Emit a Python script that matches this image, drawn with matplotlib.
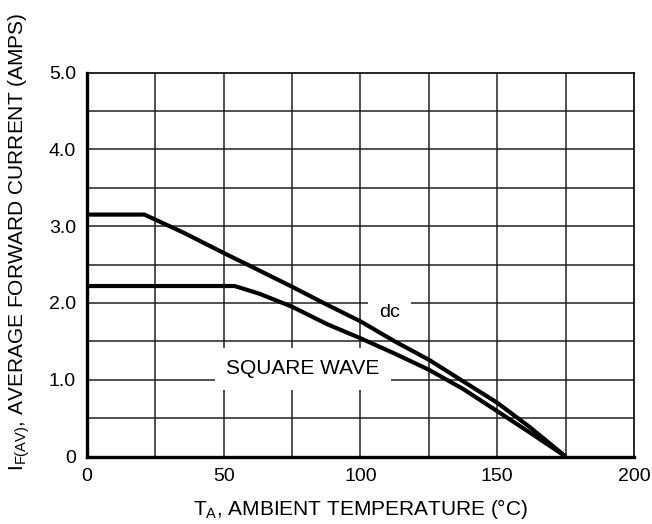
import matplotlib
matplotlib.use('Agg')
from matplotlib import pyplot as plt

plt.rcParams['font.family'] = ['Liberation Sans', 'DejaVu Sans']
plt.rcParams['mathtext.fontset'] = 'custom'
plt.rcParams['mathtext.rm'] = 'Liberation Sans'

# dc curve (ambient temperature in C, current in amps)
dc_temp = [0, 21, 35, 50, 62, 75, 87, 100, 112.5, 125, 137.5, 150, 162, 175]
dc_amps = [3.15, 3.15, 2.92, 2.65, 2.44, 2.21, 1.99, 1.76, 1.50, 1.26, 0.98, 0.70, 0.38, 0.0]

# square wave curve
sq_temp = [0, 54, 63, 75, 88, 100, 112.5, 125, 137.5, 150, 162, 175]
sq_amps = [2.22, 2.22, 2.12, 1.95, 1.72, 1.54, 1.34, 1.13, 0.88, 0.59, 0.31, 0.0]

x_ticks = [0, 50, 100, 150, 200]
y_ticks = [0, 1, 2, 3, 4, 5]
y_labels = ['0', '1.0', '2.0', '3.0', '4.0', '5.0']

fig = plt.figure(figsize=(6.52, 5.24), dpi=100)
ax = fig.add_axes([0.1334, 0.1288, 0.8390, 0.7328])

# grid every 25 C and 0.5 A
for gx in range(25, 200, 25):
    ax.axvline(gx, color='#222222', lw=1.1, zorder=1)
for gy in [0.5, 1, 1.5, 2, 2.5, 3, 3.5, 4, 4.5]:
    ax.axhline(gy, color='#222222', lw=1.1, zorder=1)

ax.plot(dc_temp, dc_amps, color='black', lw=3.0, zorder=4, solid_capstyle='butt')
ax.plot(sq_temp, sq_amps, color='black', lw=3.0, zorder=4, solid_capstyle='butt')

# labels sit on white boxes that cut the grid
ax.text(79, 1.14, 'SQUARE WAVE', fontsize=15, ha='center', va='center',
        bbox=dict(facecolor='white', edgecolor='none', pad=8), zorder=3)
ax.text(110.5, 1.88, 'dc', fontsize=14, ha='center', va='center',
        family=['Liberation Sans Narrow', 'Liberation Sans'],
        bbox=dict(facecolor='white', edgecolor='none', pad=8), zorder=3)

ax.set_xlim(0, 200)
ax.set_ylim(0, 5)
ax.set_xticks(x_ticks)
ax.set_yticks(y_ticks)
ax.set_yticklabels(y_labels)
ax.tick_params(length=0, labelsize=14, pad=8)

for side in ['left', 'bottom']:
    ax.spines[side].set_linewidth(2.4)
for side in ['top', 'right']:
    ax.spines[side].set_linewidth(1.2)

ax.set_xlabel(r'T$_{\mathrm{A}}$, AMBIENT TEMPERATURE ($\degree$C)', fontsize=15, labelpad=9)
ax.set_ylabel(r'I$_{\mathrm{F(AV)}}$, AVERAGE FORWARD CURRENT (AMPS)', fontsize=15)
ax.yaxis.set_label_coords(-0.10, 0.56)

fig.savefig('out.png', dpi=100, facecolor='white')
